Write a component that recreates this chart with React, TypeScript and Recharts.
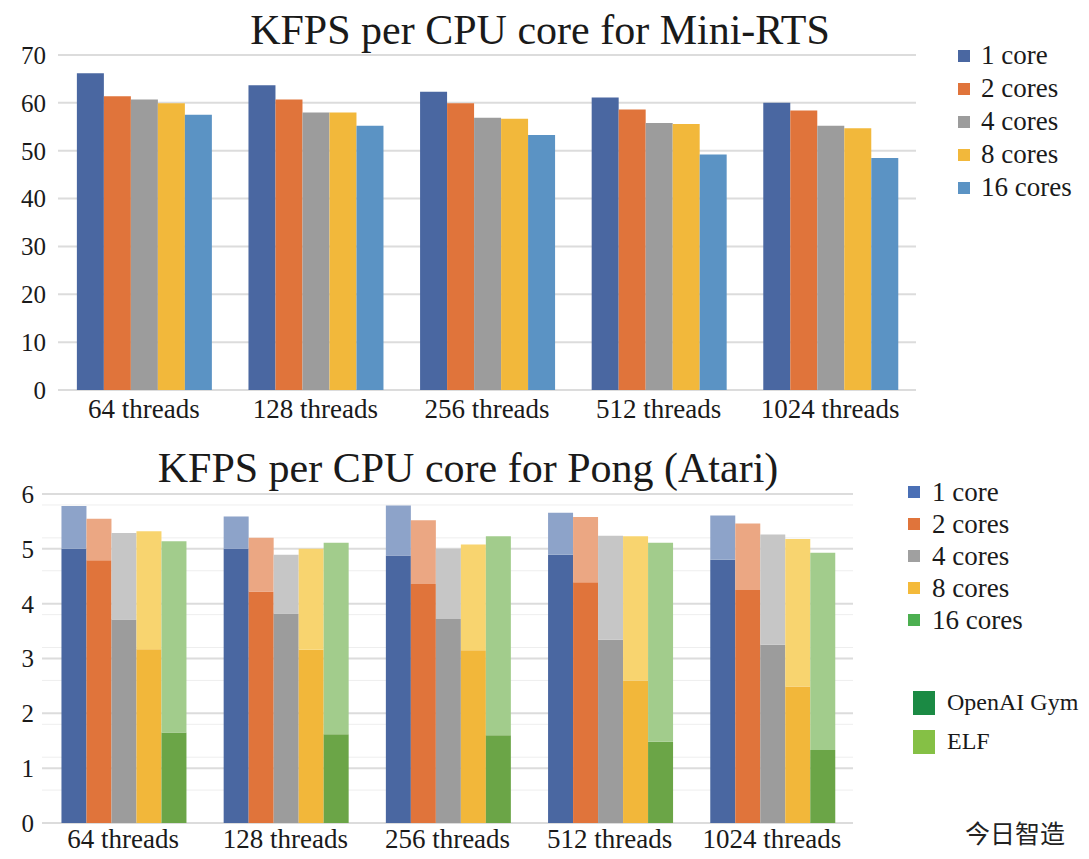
import React from 'react';
import { BarChart, Bar, XAxis, YAxis, CartesianGrid } from 'recharts';

const threads = ['64 threads', '128 threads', '256 threads', '512 threads', '1024 threads'];
const coreNames = ['1 core', '2 cores', '4 cores', '8 cores', '16 cores'];

// Mini-RTS, KFPS per core
const rts1 = [66.2, 63.7, 62.3, 61.1, 60.0];
const rts2 = [61.4, 60.7, 59.9, 58.6, 58.4];
const rts4 = [60.7, 58.0, 56.9, 55.8, 55.2];
const rts8 = [59.9, 58.0, 56.7, 55.6, 54.7];
const rts16 = [57.5, 55.2, 53.3, 49.2, 48.5];

// Pong (Atari): OpenAI Gym vs ELF
const gym1 = [5.0, 5.0, 4.88, 4.89, 4.8];
const gym2 = [4.79, 4.22, 4.36, 4.39, 4.25];
const gym4 = [3.71, 3.82, 3.72, 3.34, 3.25];
const gym8 = [3.17, 3.16, 3.15, 2.6, 2.49];
const gym16 = [1.65, 1.62, 1.6, 1.48, 1.33];
const elf1 = [5.78, 5.59, 5.79, 5.66, 5.61];
const elf2 = [5.55, 5.2, 5.52, 5.58, 5.46];
const elf4 = [5.29, 4.89, 5.0, 5.24, 5.26];
const elf8 = [5.32, 5.0, 5.08, 5.23, 5.18];
const elf16 = [5.14, 5.11, 5.23, 5.11, 4.93];

const rtsTicks = [0, 10, 20, 30, 40, 50, 60, 70];
const pongTicks = [0, 1, 2, 3, 4, 5, 6];
const pongMinor = [0.2, 0.4, 0.6, 0.8, 1.2, 1.4, 1.6, 1.8, 2.2, 2.4, 2.6, 2.8, 3.2, 3.4, 3.6, 3.8, 4.2, 4.4, 4.6, 4.8, 5.2, 5.4, 5.6, 5.8];

const rtsColors = ['#4A67A1', '#E0743B', '#9C9C9C', '#F2B83B', '#5B93C4'];
const darkColors = ['#4A67A1', '#E0743B', '#9C9C9C', '#F2B73A', '#6BA547'];
const lightColors = ['#8DA3C9', '#EBA783', '#C6C6C6', '#F8D46F', '#A2CC8C'];
const pongLegend = ['#4A6FB5', '#E0743B', '#A0A0A0', '#F4BA3A', '#4CAF50'];

const rtsSeries = [rts1, rts2, rts4, rts8, rts16];
const gymSeries = [gym1, gym2, gym4, gym8, gym16];
const elfSeries = [elf1, elf2, elf4, elf8, elf16];

const rtsData = threads.map((t, i) => {
  const row: any = { name: t };
  rtsSeries.forEach((s, k) => { row['c' + k] = s[i]; });
  return row;
});

const pongData = threads.map((t, i) => {
  const row: any = { name: t };
  gymSeries.forEach((s, k) => {
    row['gym' + k] = s[i];
    row['extra' + k] = +(elfSeries[k][i] - s[i]).toFixed(2);
  });
  return row;
});

const serif = '"Liberation Serif", "DejaVu Serif", serif';
const textColor = '#1a1a1a';

const App = () => {
  return (
    <div style={{ position: 'absolute', left: 0, top: 0, width: 1089, height: 859, background: '#fff', fontFamily: serif, color: textColor }}>
      <div style={{ position: 'absolute', left: 0, width: 1080, top: 6, textAlign: 'center', fontSize: 42, lineHeight: '48px' }}>
        KFPS per CPU core for Mini-RTS
      </div>
      <div style={{ position: 'absolute', left: 0, top: 0 }}>
        <BarChart width={930} height={440} data={rtsData} margin={{ top: 55, right: 14, left: 10, bottom: 10 }} barGap={0} barCategoryGap="11%">
          <CartesianGrid vertical={false} stroke="#DCDCDC" strokeWidth={2} />
          <XAxis dataKey="name" axisLine={false} tickLine={false} tickSize={0} tickMargin={9} height={40}
            tick={{ fontSize: 27, fill: textColor, fontFamily: serif }} interval={0} />
          <YAxis domain={[0, 70]} ticks={rtsTicks} axisLine={false} tickLine={false} tickSize={0} tickMargin={12} width={48}
            tick={{ fontSize: 25, fill: textColor, fontFamily: serif }} />
          {coreNames.map((c, k) => (
            <Bar key={c} dataKey={'c' + k} name={c} fill={rtsColors[k]} isAnimationActive={false} />
          ))}
        </BarChart>
      </div>
      <div style={{ position: 'absolute', left: 958, top: 39, fontFamily: serif }}>
        {coreNames.map((c, k) => (
          <div key={c} style={{ display: 'flex', alignItems: 'center', height: 33, fontSize: 27 }}>
            <span style={{ display: 'inline-block', width: 12, height: 12, background: rtsColors[k], marginRight: 11 }} />
            {c}
          </div>
        ))}
      </div>

      <div style={{ position: 'absolute', left: 0, width: 936, top: 444, textAlign: 'center', fontSize: 42, lineHeight: '48px' }}>
        KFPS per CPU core for Pong (Atari)
      </div>
      <div style={{ position: 'absolute', left: 0, top: 440 }}>
        <BarChart width={870} height={419} data={pongData} margin={{ top: 54, right: 17, left: 10, bottom: 6 }} barGap={0} barCategoryGap="12%">
          <CartesianGrid vertical={false} stroke="#EEEEEE" strokeWidth={1} horizontalValues={pongMinor} />
          <CartesianGrid vertical={false} stroke="#DCDCDC" strokeWidth={2} horizontalValues={pongTicks} />
          <XAxis dataKey="name" axisLine={false} tickLine={false} tickSize={0} tickMargin={6} height={30}
            tick={{ fontSize: 27, fill: textColor, fontFamily: serif }} interval={0} />
          <YAxis domain={[0, 6]} ticks={pongTicks} axisLine={false} tickLine={false} tickSize={0} tickMargin={8} width={32}
            tick={{ fontSize: 25, fill: textColor, fontFamily: serif }} />
          {coreNames.flatMap((c, k) => [
            <Bar key={'g' + k} dataKey={'gym' + k} stackId={'s' + k} fill={darkColors[k]} isAnimationActive={false} />,
            <Bar key={'e' + k} dataKey={'extra' + k} stackId={'s' + k} fill={lightColors[k]} isAnimationActive={false} />,
          ])}
        </BarChart>
      </div>
      <div style={{ position: 'absolute', left: 908, top: 476, fontFamily: serif }}>
        {coreNames.map((c, k) => (
          <div key={c} style={{ display: 'flex', alignItems: 'center', height: 32, fontSize: 27 }}>
            <span style={{ display: 'inline-block', width: 12, height: 12, background: pongLegend[k], marginRight: 12 }} />
            {c}
          </div>
        ))}
      </div>
      <div style={{ position: 'absolute', left: 913, top: 683, fontFamily: serif }}>
        {[['OpenAI Gym', '#1B8A44'], ['ELF', '#85C045']].map(([label, col]) => (
          <div key={label} style={{ display: 'flex', alignItems: 'center', height: 39, fontSize: 24 }}>
            <span style={{ display: 'inline-block', width: 22, height: 24, background: col, marginRight: 12 }} />
            {label}
          </div>
        ))}
      </div>
      <div style={{ position: 'absolute', left: 965, top: 814, fontSize: 25, fontFamily: '"Noto Sans CJK SC", sans-serif', color: '#222' }}>
        今日智造
      </div>
    </div>
  );
};

export default App;
